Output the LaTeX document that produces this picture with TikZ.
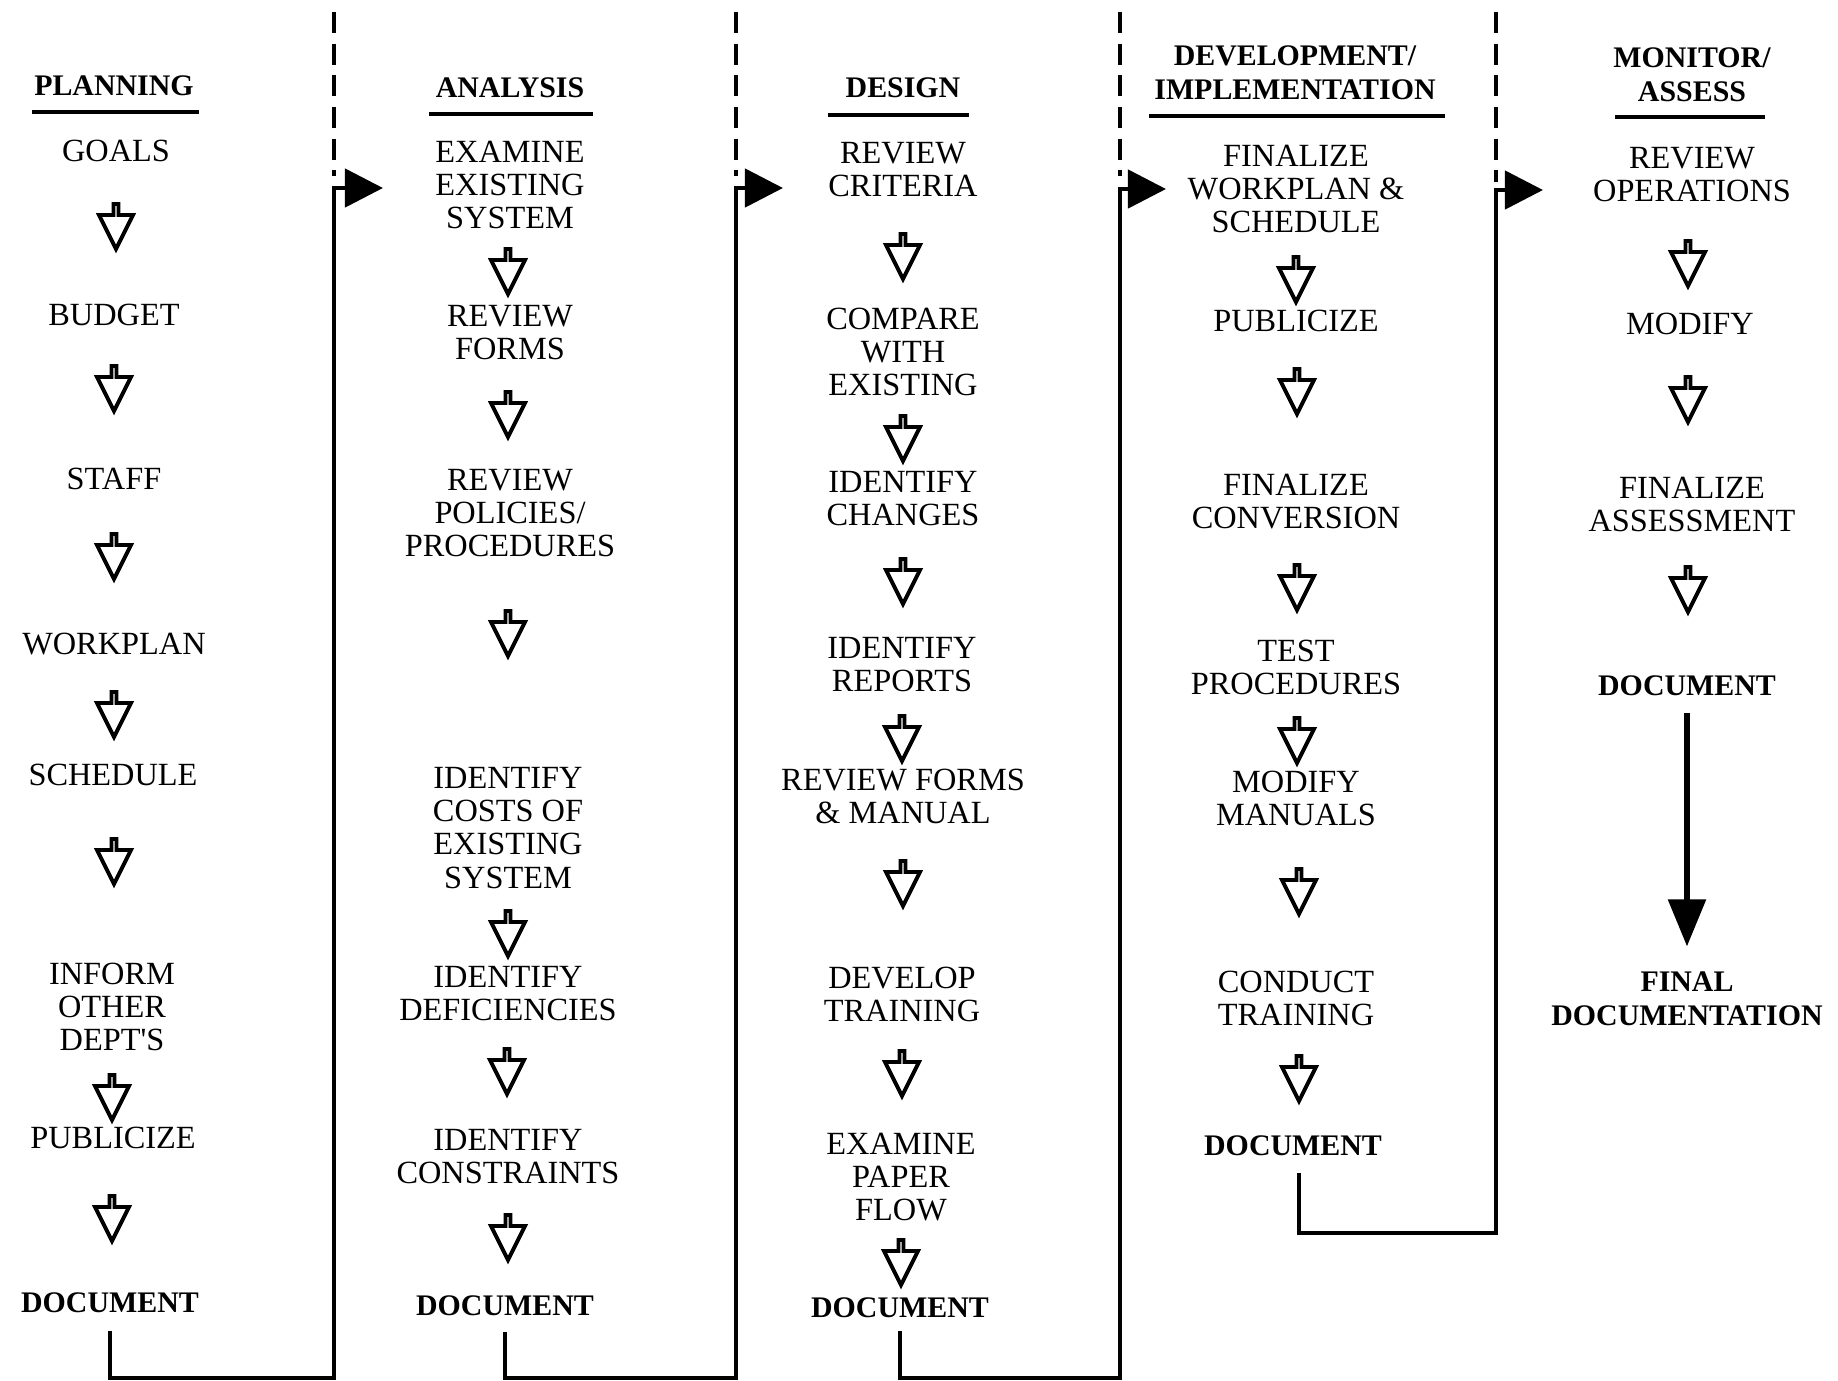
\documentclass[tikz,border=0pt]{standalone}
\usepackage{fontspec}
\setmainfont{Liberation Serif}
\usepackage{tikz}
\usetikzlibrary{arrows.meta,shapes.arrows}

\begin{document}
\begin{tikzpicture}[
    x=0.01cm, y=-0.01cm,
    every node/.style={font=\fontsize{9.2}{9.4}\selectfont, inner sep=0pt, align=center},
    hd/.style={font=\bfseries\fontsize{8.5}{9.6}\selectfont},
    doc/.style={font=\bfseries\fontsize{8.5}{9.6}\selectfont},
    harrow/.style={single arrow, draw=black, line width=1.1pt, fill=white,
                   rotate=-90, minimum height=0.45cm, minimum width=0.34cm,
                   single arrow head extend=0.11cm, single arrow tip angle=53},
    rule/.style={line width=1.2pt},
    divider/.style={line width=0.9pt, dash pattern=on 6pt off 3pt},
    link/.style={line width=1.3pt, -{Triangle[length=0.38cm,width=0.38cm]}},
    longarr/.style={line width=1.6pt, -{Triangle[length=0.47cm,width=0.37cm]}}
]
\useasboundingbox (0,0) rectangle (1838,1381);

% planning
\node[hd]     (planning)   at (114,86)   {PLANNING};
\node         (goals)      at (116,151)  {GOALS};
\node[harrow] (p1)         at (116,224)  {};
\node         (budget)     at (114,315)  {BUDGET};
\node[harrow] (p2)         at (114,386)  {};
\node         (staff)      at (114,479)  {STAFF};
\node[harrow] (p3)         at (114,554)  {};
\node         (workplan)   at (114,644)  {WORKPLAN};
\node[harrow] (p4)         at (114,712)  {};
\node         (schedule)   at (113,775)  {SCHEDULE};
\node[harrow] (p5)         at (114,859)  {};
\node         (inform)     at (112,1007) {INFORM\\OTHER\\DEPT\textquotesingle S};
\node[harrow] (p6)         at (112,1095) {};
\node         (publicize1) at (113,1138) {PUBLICIZE};
\node[harrow] (p7)         at (112,1216) {};
\node[doc]    (doc1)       at (110,1303) {DOCUMENT};

% analysis
\node[hd]     (analysis)   at (510,88)   {ANALYSIS};
\node         (examine)    at (510,185)  {EXAMINE\\EXISTING\\SYSTEM};
\node[harrow] (a1)         at (508,269)  {};
\node         (revforms)   at (510,333)  {REVIEW\\FORMS};
\node[harrow] (a2)         at (508,412)  {};
\node         (revpol)     at (510,513)  {REVIEW\\POLICIES/\\PROCEDURES};
\node[harrow] (a3)         at (508,631)  {};
\node         (costs)      at (508,828)  {IDENTIFY\\COSTS OF\\EXISTING\\SYSTEM};
\node[harrow] (a4)         at (508,931)  {};
\node         (defic)      at (508,994)  {IDENTIFY\\DEFICIENCIES};
\node[harrow] (a5)         at (507,1069) {};
\node         (constr)     at (508,1157) {IDENTIFY\\CONSTRAINTS};
\node[harrow] (a6)         at (508,1235) {};
\node[doc]    (doc2)       at (505,1306) {DOCUMENT};

% design
\node[hd]     (design)     at (903,88)   {DESIGN};
\node         (criteria)   at (903,170)  {REVIEW\\CRITERIA};
\node[harrow] (d1)         at (903,254)  {};
\node         (compare)    at (903,352)  {COMPARE\\WITH\\EXISTING};
\node[harrow] (d2)         at (903,436)  {};
\node         (changes)    at (903,499)  {IDENTIFY\\CHANGES};
\node[harrow] (d3)         at (903,579)  {};
\node         (reports)    at (902,665)  {IDENTIFY\\REPORTS};
\node[harrow] (d4)         at (902,736)  {};
\node         (manual)     at (903,796)  {REVIEW FORMS\\\& MANUAL};
\node[harrow] (d5)         at (903,881)  {};
\node         (devtrain)   at (902,994)  {DEVELOP\\TRAINING};
\node[harrow] (d6)         at (902,1071) {};
\node         (paper)      at (901,1177) {EXAMINE\\PAPER\\FLOW};
\node[harrow] (d7)         at (901,1260) {};
\node[doc]    (doc3)       at (900,1308) {DOCUMENT};

% development / implementation
\node[hd]     (develop)    at (1295,73)  {DEVELOPMENT/\\IMPLEMENTATION};
\node         (finwork)    at (1296,189) {FINALIZE\\WORKPLAN \&\\SCHEDULE};
\node[harrow] (v1)         at (1296,277) {};
\node         (publicize2) at (1296,321) {PUBLICIZE};
\node[harrow] (v2)         at (1297,389) {};
\node         (conversion) at (1296,502) {FINALIZE\\CONVERSION};
\node[harrow] (v3)         at (1297,585) {};
\node         (testproc)   at (1296,667) {TEST\\PROCEDURES};
\node[harrow] (v4)         at (1297,738) {};
\node         (modman)     at (1296,798) {MODIFY\\MANUALS};
\node[harrow] (v5)         at (1299,889) {};
\node         (conduct)    at (1296,998) {CONDUCT\\TRAINING};
\node[harrow] (v6)         at (1299,1076) {};
\node[doc]    (doc4)       at (1293,1146) {DOCUMENT};

% monitor / assess
\node[hd]     (monitor)    at (1692,75)  {MONITOR/\\ASSESS};
\node         (operations) at (1692,175) {REVIEW\\OPERATIONS};
\node[harrow] (m1)         at (1688,261) {};
\node         (modify)     at (1690,324) {MODIFY};
\node[harrow] (m2)         at (1688,397) {};
\node         (finassess)  at (1692,504) {FINALIZE\\ASSESSMENT};
\node[harrow] (m3)         at (1688,587) {};
\node[doc]    (doc5)       at (1687,686) {DOCUMENT};
\node[doc]    (final)      at (1687,999) {FINAL\\DOCUMENTATION};

% header rules
\draw[rule] (32,112)   -- (199,112);
\draw[rule] (429,114)  -- (593,114);
\draw[rule] (828,115)  -- (969,115);
\draw[rule] (1149,116) -- (1445,116);
\draw[rule] (1615,117) -- (1765,117);

% dashed column dividers
\draw[divider] (334,12)  -- (334,176);
\draw[divider] (736,12)  -- (736,176);
\draw[divider] (1120,12) -- (1120,176);
\draw[divider] (1496,12) -- (1496,182);

% hand-over from one column to the next
\coordinate (b1) at (334,1378);  \coordinate (c1) at (334,188);  \coordinate (e1) at (383,188);
\coordinate (b2) at (736,1378);  \coordinate (c2) at (736,188);  \coordinate (e2) at (783,188);
\coordinate (b3) at (1120,1378); \coordinate (c3) at (1120,189); \coordinate (e3) at (1166,189);
\coordinate (b4) at (1496,1233); \coordinate (c4) at (1496,190); \coordinate (e4) at (1543,190);

\draw[link] ([yshift=-0.17cm]doc1.south) |- (b1) -- (c1) -- (e1);
\draw[link] ([yshift=-0.15cm]doc2.south) |- (b2) -- (c2) -- (e2);
\draw[link] ([yshift=-0.12cm]doc3.south) |- (b3) -- (c3) -- (e3);
\draw[link] ([xshift=0.06cm,yshift=-0.16cm]doc4.south) |- (b4) -- (c4) -- (e4);

\draw[longarr, shorten <=0.16cm, shorten >=0.25cm] (doc5) -- (final);
\end{tikzpicture}
\end{document}
